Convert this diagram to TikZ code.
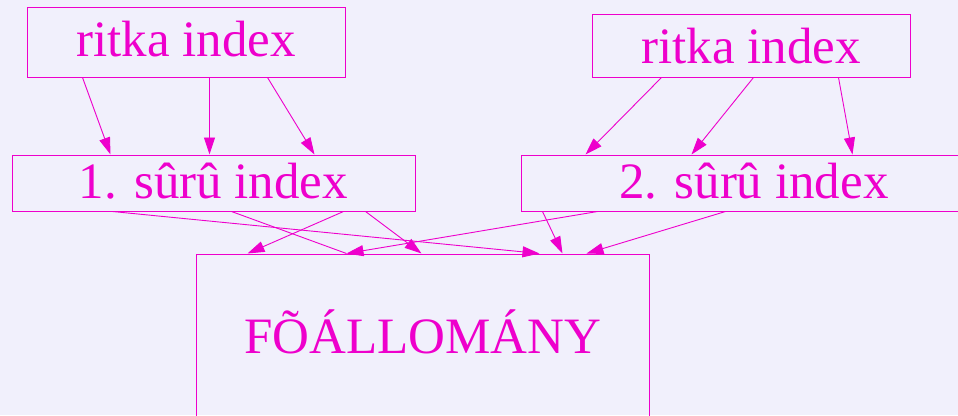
\documentclass[tikz,border=0pt]{standalone}
\usepackage{fontspec}
\setmainfont{Liberation Serif}
\usetikzlibrary{arrows.meta}
\definecolor{lila}{RGB}{238,0,204}
\definecolor{hatter}{RGB}{241,240,252}
\begin{document}
\begin{tikzpicture}[x=1pt,y=-1pt,
    doboz/.style={draw=lila,line width=1pt,text=lila,inner sep=0pt,font=\fontsize{51}{60}\selectfont},
    vonal/.style={draw=lila,line width=0.9pt},
    nyil/.style={vonal,-{Triangle[length=17pt,width=11pt]}}]
                \useasboundingbox (0,0) rectangle (958,415);
                \fill[hatter] (0,0) rectangle (958,415);
                \node[doboz,minimum width=318pt,minimum height=70pt,text height=34pt,text depth=6pt] (ritka1) at (186,42) {ritka index};
                \node[doboz,minimum width=318pt,minimum height=63pt,text height=37pt,text depth=2pt] (ritka2) at (751,45.5) {ritka index};
                \node[doboz,minimum width=403pt,minimum height=56pt,text height=34pt,text depth=4pt] (suru1) at (213.5,183) {1. sûrû index};
                \node[doboz,minimum width=466pt,minimum height=56pt,text height=34pt,text depth=4pt] (suru2) at (754,183) {2. sûrû index};
                \node[doboz,minimum width=453pt,minimum height=200pt,text height=40pt,text depth=42pt] (fo) at (422.5,354) {FÕÁLLOMÁNY};
                \draw[nyil] ([xshift=56pt]ritka1.south west) -- ([xshift=99pt]suru1.north west);
                \draw[nyil] ([xshift=183pt]ritka1.south west) -- ([xshift=198pt]suru1.north west);
                \draw[nyil] ([xshift=241pt]ritka1.south west) -- ([xshift=303pt]suru1.north west);
                \draw[nyil] ([xshift=70pt]ritka2.south west) -- ([xshift=65pt]suru2.north west);
                \draw[nyil] ([xshift=162pt]ritka2.south west) -- ([xshift=171pt]suru2.north west);
                \draw[nyil] ([xshift=247pt]ritka2.south west) -- ([xshift=332pt]suru2.north west);
                \draw[nyil] ([xshift=101pt]suru1.south west) -- ([xshift=344pt]fo.north west);
                \draw[vonal] ([xshift=220pt]suru1.south west) -- ([xshift=151pt]fo.north west);
                \draw[nyil] ([xshift=332pt]suru1.south west) -- ([xshift=52pt]fo.north west);
                \draw[nyil] ([xshift=354pt]suru1.south west) -- ([xshift=226pt]fo.north west);
                \draw[nyil] ([xshift=77pt]suru2.south west) -- ([xshift=151pt]fo.north west);
                \draw[nyil] ([xshift=22pt]suru2.south west) -- ([xshift=367pt]fo.north west);
                \draw[nyil] ([xshift=205pt]suru2.south west) -- ([xshift=391pt]fo.north west);
            \end{tikzpicture}
\end{document}
